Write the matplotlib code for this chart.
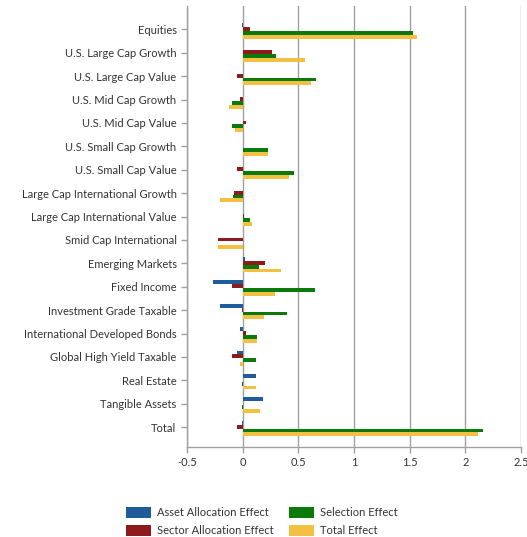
import matplotlib.pyplot as plt
import numpy as np

plt.rcParams['font.family'] = ['Lato', 'DejaVu Sans']

# Data
categories = ['Equities', 'U.S. Large Cap Growth', 'U.S. Large Cap Value',
              'U.S. Mid Cap Growth', 'U.S. Mid Cap Value', 'U.S. Small Cap Growth',
              'U.S. Small Cap Value', 'Large Cap International Growth',
              'Large Cap International Value', 'Smid Cap International',
              'Emerging Markets', 'Fixed Income', 'Investment Grade Taxable',
              'International Developed Bonds', 'Global High Yield Taxable',
              'Real Estate', 'Tangible Assets', 'Total']

asset_alloc = [-0.01, 0.0, 0.0, 0.0, 0.0, 0.0, 0.0, 0.0, 0.0, 0.0,
               0.02, -0.27, -0.20, -0.02, -0.05, 0.12, 0.18, -0.01]
sector_alloc = [0.07, 0.26, -0.05, -0.02, 0.03, 0.0, -0.05, -0.08, 0.01, -0.22,
                0.20, -0.10, -0.01, 0.03, -0.10, 0.0, 0.0, -0.05]
selection = [1.53, 0.30, 0.66, -0.10, -0.10, 0.23, 0.46, -0.09, 0.07, 0.0,
             0.15, 0.65, 0.40, 0.13, 0.12, -0.01, -0.01, 2.16]
total = [1.57, 0.56, 0.61, -0.12, -0.07, 0.23, 0.42, -0.20, 0.08, -0.22,
         0.34, 0.29, 0.19, 0.13, -0.02, 0.12, 0.16, 2.11]

series = [
    ('Asset Allocation Effect', asset_alloc, '#1f5c99'),
    ('Sector Allocation Effect', sector_alloc, '#8e1b1b'),
    ('Selection Effect', selection, '#0b7a0b'),
    ('Total Effect', total, '#f4c042'),
]

fig = plt.figure(figsize=(5.27, 5.37), dpi=100)
ax = fig.add_axes([0.3548, 0.1676, 0.6338, 0.8212])

y = np.arange(len(categories))
h = 0.165
offsets = [-1.5, -0.5, 0.5, 1.5]
for (name, vals, color), off in zip(series, offsets):
    ax.barh(y + 0.06 + off * h, vals, height=h, color=color, label=name, zorder=3)

ax.set_xlim(-0.5, 2.5)
ax.set_ylim(len(categories) - 0.15, -1.0)
ax.set_xticks([-0.5, 0, 0.5, 1, 1.5, 2, 2.5])
ax.set_xticklabels(['-0.5', '0', '0.5', '1', '1.5', '2', '2.5'])
ax.set_yticks(y)
ax.set_yticklabels(categories)

ax.grid(axis='x', color='#a0a0a0', linewidth=1.0, zorder=0)
for side in ['top', 'right']:
    ax.spines[side].set_visible(False)
for side in ['left', 'bottom']:
    ax.spines[side].set_color('#a0a0a0')
    ax.spines[side].set_linewidth(1.0)
ax.tick_params(axis='both', colors='#a0a0a0', labelcolor='#333333',
               labelsize=8, length=4, width=1)

# legend at the bottom, two columns
fig.legend(loc='center left', bbox_to_anchor=(0.221, 0.029), ncol=2,
           frameon=False, fontsize=8, handlelength=2.2, handleheight=1.15,
           columnspacing=1.4, handletextpad=0.55, labelspacing=0.6,
           labelcolor='#333333', bbox_transform=fig.transFigure)

fig.savefig('out.png', dpi=100)
